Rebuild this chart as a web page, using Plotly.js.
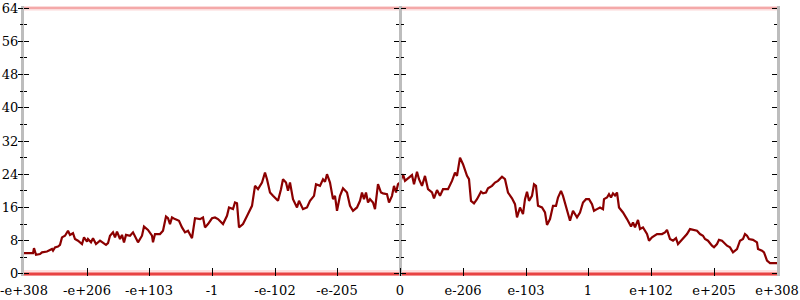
<!DOCTYPE html>
<html>
<head>
<meta charset="utf-8">
<script src="https://cdn.plot.ly/plotly-3.0.1.min.js"></script>
<style>html,body{margin:0;padding:0;background:#fff;}#chart{width:800px;height:300px;}</style>
</head>
<body>
<div id="chart"></div>
<script>
// bin index (0 = zero exponent slot), counts per bin
const binPos = [-376,-367,-366,-364,-360,-358,-353,-348,-347,-345,-342,-340,-338,-335,-332,-330,-327,-325,-322,-318,-316,-313,-312,-309,-307,-304,-300,-297,-294,-292,-290,-287,-285,-283,-280,-278,-276,-274,-270,-267,-262,-258,-256,-252,-248,-247,-245,-240,-237,-234,-232,-230,-228,-225,-221,-218,-215,-212,-208,-205,-200,-197,-195,-192,-188,-185,
-182,-177,-173,-171,-167,-165,-163,-161,-157,-152,-148,-145,-142,-138,-135,-133,-130,-127,-122,-119,-117,-114,-112,-110,-107,-103,-101,-97,-93,-90,-86,-84,-80,-77,-75,-73,-70,-67,-65,-63,-60,-57,-53,-50,-47,-43,-40,-38,-36,-34,-32,-30,-27,-25,-22,-19,-17,-13,-11,-8,-6,-4,-2,0,
3,5,8,12,14,17,19,22,25,28,32,34,37,40,43,48,52,55,57,60,63,67,69,71,74,77,81,83,86,88,92,95,98,102,105,108,112,115,117,120,123,125,127,129,132,134,136,138,142,145,147,150,153,156,158,161,163,167,170,173,177,180,183,186,189,192,194,
197,200,203,204,207,209,211,213,215,217,219,223,227,231,233,235,238,240,243,247,249,252,257,262,265,267,270,273,276,278,281,285,287,290,293,297,300,303,305,308,312,314,317,319,322,325,327,330,333,337,340,343,345,347,349,353,357,358,362,364,367,370,377];
const counts = [5.0,5.0,6.2,4.6,4.8,5.2,5.4,6.0,5.6,6.4,6.6,7.0,8.8,9.2,10.4,9.4,9.8,8.4,8.0,7.2,8.8,7.8,8.4,7.6,8.6,7.2,8.0,7.4,7.0,7.4,9.2,10.0,8.8,10.2,8.4,9.4,7.6,9.4,9.2,10.0,7.6,9.2,11.4,10.6,9.2,7.6,9.6,9.6,10.4,13.8,13.4,12.0,13.6,13.2,12.8,11.2,10.0,10.4,8.6,13.4,13.2,13.6,11.2,12.0,13.4,13.6,
13.2,12.0,14.0,16.0,15.6,17.2,17.0,11.2,12.0,14.4,16.4,21.2,20.4,22.0,24.4,22.8,19.6,18.8,17.6,20.4,22.8,22.0,20.0,22.0,18.0,16.0,17.6,15.6,16.0,17.6,18.8,21.6,21.2,22.8,22.2,24.0,22.0,18.0,18.8,15.2,18.8,20.6,19.6,16.4,15.2,16.0,17.6,19.6,18.0,19.6,17.2,18.0,17.2,15.6,21.6,19.6,19.4,19.2,17.2,18.8,21.2,19.6,21.6,22.0,
24.0,22.4,23.0,23.8,21.6,24.6,22.8,21.2,23.6,20.4,19.6,18.2,20.2,18.8,20.4,20.4,22.4,24.4,23.6,28.0,26.4,23.6,22.8,17.6,17.0,18.0,19.8,19.4,19.6,20.6,21.2,22.0,22.4,23.4,22.8,19.6,18.2,16.8,13.6,16.0,14.4,18.0,19.8,17.6,18.8,21.6,21.2,16.4,16.0,14.8,11.8,13.2,16.4,16.4,18.4,20.0,18.8,15.2,12.8,15.2,13.6,14.8,17.2,18.0,18.0,16.8,15.2,
15.6,16.0,15.6,18.0,18.4,19.2,18.4,19.4,18.9,19.6,16.0,14.8,13.2,11.4,12.4,11.2,13.0,10.8,11.2,9.6,8.0,8.8,9.6,9.6,10.0,10.6,8.4,8.0,8.6,7.2,8.0,9.2,9.6,10.8,10.6,10.4,9.6,9.2,8.4,8.0,6.8,6.4,7.2,8.2,8.0,7.2,6.8,6.4,5.2,6.0,8.0,8.4,9.6,9.2,8.4,8.2,7.6,6.0,5.6,5.2,3.2,2.6,2.6];

const edgeBins = [-376, 377];
const underflowLevel = [0, 0];
const overflowLevel = [64, 64];

const tickBins = [-376,-313,-251,-188,-125,-63,0,63,126,188,251,314,377];
const tickLabels = ['-e+308','-e+206','-e+103','-1','-e-102','-e-205','0','e-206','e-103','1','e+102','e+205','e+308'];
const yTicks = [0,8,16,24,32,40,48,56,64];

const serif = {family: 'DejaVu Serif', size: 13, color: '#000'};
const yRange = [-0.5, 64.5];
const centerPos = 376 / 753;

const traces = [
  {x: edgeBins, y: underflowLevel, mode: 'lines', line: {color: 'rgba(255,150,150,0.3)', width: 8}, yaxis: 'y2', hoverinfo: 'skip', showlegend: false},
  {x: edgeBins, y: underflowLevel, mode: 'lines', line: {color: 'rgba(228,40,40,0.85)', width: 3}, yaxis: 'y2', hoverinfo: 'skip', showlegend: false},
  {x: edgeBins, y: overflowLevel, mode: 'lines', line: {color: 'rgba(240,120,120,0.15)', width: 6}, yaxis: 'y3', hoverinfo: 'skip', showlegend: false},
  {x: edgeBins, y: overflowLevel, mode: 'lines', line: {color: 'rgba(230,70,70,0.4)', width: 2.5}, yaxis: 'y3', hoverinfo: 'skip', showlegend: false},
  {x: binPos, y: counts, mode: 'lines', line: {color: '#8b0000', width: 2.2}, yaxis: 'y', showlegend: false},
  {x: [0], y: [32], mode: 'markers', marker: {opacity: 0}, yaxis: 'y4', hoverinfo: 'skip', showlegend: false},
  {x: [0], y: [32], mode: 'markers', marker: {opacity: 0}, yaxis: 'y5', hoverinfo: 'skip', showlegend: false}
];

const baseY = {
  range: yRange, tickvals: yTicks, showgrid: false, zeroline: false,
  tickcolor: '#000', tickwidth: 1, ticklen: 5,
  minor: {dtick: 4, tick0: 0, ticklen: 3, tickcolor: '#000', tickwidth: 1, showgrid: false},
  fixedrange: true
};

const layout = {
  width: 800, height: 300,
  margin: {l: 24, r: 23, t: 6, b: 24, pad: 0},
  paper_bgcolor: '#fff', plot_bgcolor: '#fff',
  showlegend: false,
  xaxis: {
    range: [-376, 377], tickvals: tickBins, ticktext: tickLabels,
    ticks: 'inside', ticklen: 8, tickcolor: '#000', tickwidth: 1,
    showgrid: false, zeroline: false, showline: false,
    tickfont: serif, ticklabelstandoff: 5, fixedrange: true
  },
  yaxis: Object.assign({}, baseY, {
    ticks: 'inside', showline: true, linecolor: '#bdbdbd', linewidth: 3,
    tickfont: serif, showticklabels: true,
    minor: Object.assign({}, baseY.minor, {ticks: 'inside'})
  }),
  yaxis2: Object.assign({}, baseY, {
    overlaying: 'y', side: 'left', ticks: 'outside', showticklabels: false, showline: false,
    minor: Object.assign({}, baseY.minor, {ticks: 'outside'})
  }),
  yaxis3: Object.assign({}, baseY, {
    overlaying: 'y', anchor: 'free', position: centerPos, side: 'left',
    ticks: 'outside', ticklen: 5, showticklabels: false, showline: true, linecolor: '#bdbdbd', linewidth: 3,
    minor: Object.assign({}, baseY.minor, {ticks: 'outside'})
  }),
  yaxis4: Object.assign({}, baseY, {
    overlaying: 'y', anchor: 'free', position: centerPos, side: 'left',
    ticks: 'inside', ticklen: 5, showticklabels: false, showline: false,
    minor: Object.assign({}, baseY.minor, {ticks: 'inside'})
  }),
  yaxis5: Object.assign({}, baseY, {
    overlaying: 'y', side: 'right', anchor: 'x',
    ticks: 'inside', ticklen: 5, showticklabels: false, showline: true, linecolor: '#bdbdbd', linewidth: 3,
    minor: Object.assign({}, baseY.minor, {ticks: 'inside'})
  })
};

Plotly.newPlot('chart', traces, layout, {staticPlot: true, displayModeBar: false});
</script>
</body>
</html>
